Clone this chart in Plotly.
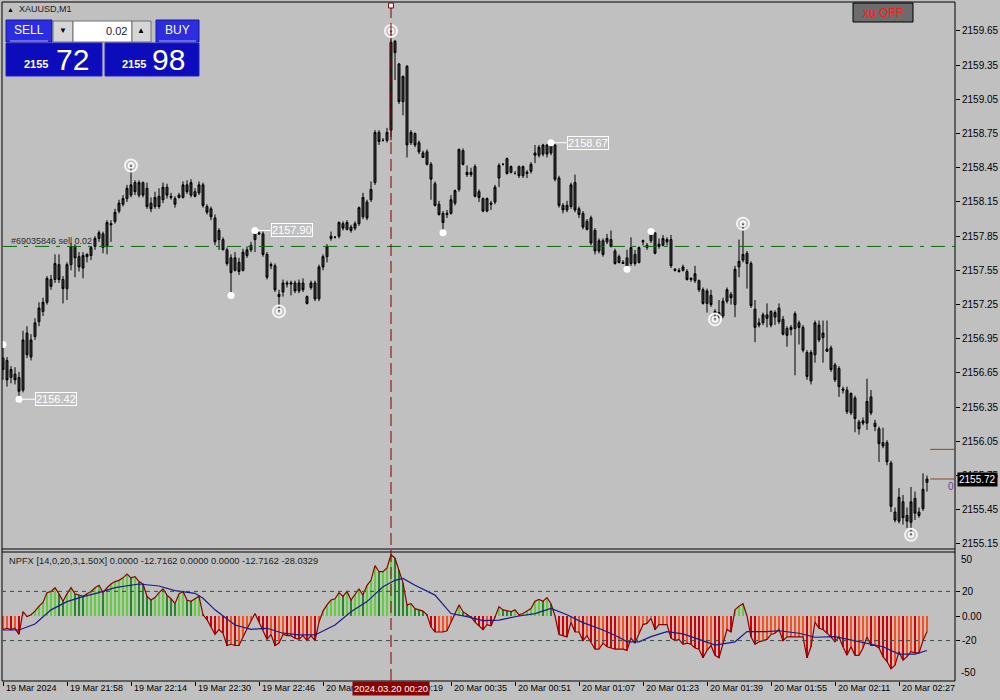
import plotly.graph_objects as go

# ---------------- DATA ----------------
opens = [2156.78,2156.76,2156.61,2156.64,2156.61,2156.50,2157.00,2156.79,2156.97,2157.10,
2157.19,2157.27,2157.47,2157.47,2157.60,2157.47,2157.39,2157.60,2157.76,2157.67,
2157.57,2157.67,2157.68,2157.76,2157.83,2157.87,2157.76,2157.96,2157.98,2158.07,
2158.13,2158.18,2158.21,2158.32,2158.21,2158.32,2158.27,2158.14,2158.11,2158.20,
2158.17,2158.28,2158.20,2158.18,2158.19,2158.19,2158.30,2158.21,2158.24,2158.23,
2158.30,2158.11,2158.09,2158.01,2157.82,2157.82,2157.73,2157.66,2157.55,2157.62,
2157.55,2157.68,2157.73,2157.82,2157.88,2157.87,2157.69,2157.59,2157.59,2157.34,
2157.36,2157.44,2157.43,2157.44,2157.37,2157.44,2157.32,2157.40,2157.44,2157.30,
2157.58,2157.67,2157.83,2157.84,2157.85,2157.96,2157.91,2157.93,2157.92,2157.96,
2158.02,2158.15,2158.17,2158.32,2158.76,2158.69,2158.69,2158.78,2159.56,2159.36,
2159.03,2159.34,2158.67,2158.75,2158.67,2158.58,2158.59,2158.48,2158.31,2158.13,
2158.05,2158.04,2158.05,2158.14,2158.26,2158.60,2158.41,2158.39,2158.46,2158.24,
2158.18,2158.07,2158.14,2158.15,2158.36,2158.48,2158.53,2158.41,2158.40,2158.46,
2158.38,2158.40,2158.42,2158.56,2158.56,2158.57,2158.65,2158.58,2158.65,2158.36,
2158.12,2158.08,2158.11,2158.32,2158.09,2158.05,2157.98,2158.01,2157.90,2157.72,
2157.81,2157.80,2157.82,2157.72,2157.67,2157.62,2157.66,2157.61,2157.69,2157.62,
2157.80,2157.77,2157.81,2157.88,2157.76,2157.77,2157.82,2157.82,2157.56,2157.55,
2157.55,2157.54,2157.48,2157.46,2157.46,2157.38,2157.26,2157.33,2157.19,2157.18,
2157.15,2157.28,2157.34,2157.25,2157.58,2157.64,2157.70,2157.61,2157.21,2157.09,
2157.09,2157.16,2157.19,2157.14,2157.22,2157.12,2157.04,2157.03,2157.04,2157.09,
2157.05,2156.83,2156.58,2156.81,2157.07,2156.96,2156.86,2156.87,2156.72,2156.69,
2156.51,2156.50,2156.30,2156.43,2156.22,2156.21,2156.21,2156.44,2156.21,2156.16,
2156.04,2156.04,2155.86,2155.43,2155.35,2155.52,2155.40,2155.34,2155.55,2155.43,
2155.46,2155.69]
highs = [2156.90,2156.79,2156.71,2156.70,2156.66,2157.02,2157.06,2156.99,2157.13,2157.27,
2157.31,2157.50,2157.51,2157.69,2157.69,2157.50,2157.62,2157.79,2157.78,2157.71,
2157.71,2157.70,2157.76,2157.85,2157.90,2157.89,2157.99,2157.99,2158.09,2158.17,
2158.21,2158.30,2158.47,2158.34,2158.34,2158.33,2158.32,2158.19,2158.24,2158.27,
2158.32,2158.31,2158.23,2158.20,2158.23,2158.33,2158.34,2158.35,2158.27,2158.33,
2158.32,2158.13,2158.11,2158.04,2157.92,2157.84,2157.75,2157.69,2157.71,2157.66,
2157.74,2157.76,2157.80,2157.90,2157.89,2157.89,2157.71,2157.62,2157.61,2157.38,
2157.47,2157.46,2157.46,2157.46,2157.47,2157.48,2157.33,2157.46,2157.46,2157.60,
2157.69,2157.78,2157.89,2157.85,2157.98,2157.98,2157.99,2157.95,2157.98,2158.11,
2158.23,2158.17,2158.33,2158.78,2158.78,2158.71,2158.80,2159.65,2159.57,2159.37,
2159.26,2159.35,2158.78,2158.76,2158.69,2158.60,2158.61,2158.50,2158.33,2158.16,
2158.07,2158.08,2158.21,2158.26,2158.62,2158.62,2158.47,2158.45,2158.48,2158.26,
2158.19,2158.19,2158.16,2158.30,2158.49,2158.49,2158.54,2158.47,2158.42,2158.47,
2158.47,2158.43,2158.50,2158.65,2158.65,2158.66,2158.66,2158.67,2158.66,2158.38,
2158.14,2158.16,2158.32,2158.39,2158.11,2158.07,2158.00,2158.03,2157.92,2157.83,
2157.83,2157.87,2157.90,2157.74,2157.69,2157.64,2157.73,2157.84,2157.73,2157.76,
2157.82,2157.79,2157.89,2157.88,2157.83,2157.86,2157.84,2157.86,2157.57,2157.57,
2157.60,2157.56,2157.49,2157.59,2157.47,2157.40,2157.39,2157.38,2157.21,2157.29,
2157.31,2157.40,2157.36,2157.59,2157.82,2157.96,2157.72,2157.63,2157.29,2157.13,
2157.18,2157.26,2157.20,2157.20,2157.26,2157.15,2157.06,2157.07,2157.19,2157.11,
2157.07,2156.85,2156.85,2157.11,2157.11,2157.11,2157.11,2156.89,2156.74,2156.71,
2156.53,2156.53,2156.48,2156.45,2156.24,2156.26,2156.60,2156.50,2156.24,2156.18,
2156.17,2156.06,2155.88,2155.47,2155.64,2155.58,2155.47,2155.65,2155.61,2155.47,
2155.77,2155.75]
lows = [2156.59,2156.53,2156.56,2156.55,2156.42,2156.48,2156.78,2156.76,2156.94,2157.06,
2157.15,2157.25,2157.38,2157.44,2157.44,2157.26,2157.29,2157.55,2157.49,2157.54,
2157.48,2157.62,2157.64,2157.73,2157.80,2157.70,2157.69,2157.80,2157.96,2158.05,
2158.11,2158.15,2158.19,2158.21,2158.19,2158.19,2158.09,2158.06,2158.09,2158.09,
2158.14,2158.18,2158.17,2158.10,2158.18,2158.18,2158.22,2158.19,2158.19,2158.21,
2158.10,2158.04,2157.99,2157.77,2157.73,2157.73,2157.59,2157.33,2157.54,2157.51,
2157.54,2157.66,2157.71,2157.71,2157.86,2157.67,2157.47,2157.56,2157.36,2157.19,
2157.32,2157.40,2157.33,2157.35,2157.35,2157.36,2157.25,2157.38,2157.28,2157.28,
2157.55,2157.62,2157.81,2157.83,2157.83,2157.90,2157.90,2157.88,2157.90,2157.94,
2158.00,2157.99,2158.15,2158.30,2158.65,2158.68,2158.67,2158.69,2159.22,2159.01,
2158.91,2158.54,2158.65,2158.63,2158.57,2158.54,2158.47,2158.17,2158.11,2158.03,
2157.88,2158.01,2158.04,2158.12,2158.24,2158.47,2158.37,2158.37,2158.19,2158.15,
2158.06,2158.06,2158.08,2158.13,2158.28,2158.47,2158.39,2158.40,2158.39,2158.36,
2158.36,2158.36,2158.40,2158.49,2158.54,2158.55,2158.54,2158.56,2158.33,2158.10,
2158.05,2158.06,2158.09,2158.06,2158.01,2157.91,2157.90,2157.77,2157.69,2157.70,
2157.67,2157.78,2157.75,2157.60,2157.61,2157.61,2157.56,2157.59,2157.59,2157.61,
2157.77,2157.73,2157.79,2157.69,2157.74,2157.76,2157.77,2157.57,2157.54,2157.53,
2157.54,2157.46,2157.45,2157.44,2157.36,2157.25,2157.18,2157.23,2157.12,2157.13,
2157.13,2157.26,2157.25,2157.14,2157.49,2157.62,2157.39,2157.22,2156.92,2157.05,
2157.07,2157.05,2157.05,2157.07,2157.08,2156.98,2156.88,2156.98,2156.63,2156.90,
2156.83,2156.59,2156.55,2156.74,2156.92,2156.74,2156.84,2156.66,2156.57,2156.44,
2156.47,2156.29,2156.28,2156.13,2156.11,2156.19,2156.15,2156.28,2156.14,2155.87,
2155.99,2155.84,2155.43,2155.34,2155.33,2155.32,2155.29,2155.23,2155.36,2155.38,
2155.44,2155.61]
closes = [2156.68,2156.59,2156.68,2156.59,2156.49,2156.94,2156.81,2156.94,2157.09,2157.22,
2157.27,2157.48,2157.41,2157.61,2157.47,2157.39,2157.60,2157.76,2157.66,2157.58,
2157.68,2157.69,2157.75,2157.83,2157.88,2157.75,2157.97,2157.95,2158.06,2158.14,
2158.18,2158.27,2158.30,2158.24,2158.32,2158.21,2158.11,2158.09,2158.19,2158.11,
2158.28,2158.21,2158.19,2158.13,2158.21,2158.30,2158.24,2158.32,2158.20,2158.30,
2158.12,2158.06,2158.02,2157.80,2157.90,2157.73,2157.61,2157.53,2157.66,2157.54,
2157.71,2157.73,2157.77,2157.89,2157.87,2157.69,2157.49,2157.60,2157.38,2157.32,
2157.44,2157.43,2157.44,2157.37,2157.44,2157.38,2157.26,2157.44,2157.30,2157.58,
2157.67,2157.76,2157.85,2157.84,2157.97,2157.92,2157.97,2157.90,2157.96,2158.10,
2158.19,2158.01,2158.26,2158.76,2158.68,2158.69,2158.76,2159.55,2159.46,2159.03,
2159.25,2158.65,2158.76,2158.65,2158.59,2158.54,2158.48,2158.35,2158.12,2158.04,
2157.97,2158.05,2158.17,2158.25,2158.61,2158.48,2158.39,2158.41,2158.20,2158.19,
2158.07,2158.18,2158.13,2158.28,2158.47,2158.48,2158.40,2158.46,2158.40,2158.38,
2158.46,2158.41,2158.48,2158.58,2158.63,2158.65,2158.57,2158.66,2158.35,2158.12,
2158.08,2158.12,2158.30,2158.08,2158.04,2157.93,2157.91,2157.79,2157.72,2157.81,
2157.69,2157.83,2157.76,2157.61,2157.62,2157.61,2157.58,2157.75,2157.61,2157.75,
2157.81,2157.75,2157.88,2157.70,2157.78,2157.83,2157.80,2157.59,2157.55,2157.54,
2157.58,2157.47,2157.47,2157.52,2157.38,2157.26,2157.37,2157.25,2157.17,2157.15,
2157.28,2157.38,2157.31,2157.56,2157.63,2157.69,2157.61,2157.24,2157.05,2157.07,
2157.16,2157.13,2157.07,2157.18,2157.10,2156.99,2156.98,2157.05,2157.17,2157.05,
2156.85,2156.62,2156.83,2157.09,2156.94,2157.00,2156.84,2156.68,2156.59,2156.53,
2156.50,2156.31,2156.47,2156.25,2156.16,2156.23,2156.40,2156.30,2156.18,2156.03,
2156.01,2155.87,2155.48,2155.36,2155.56,2155.38,2155.35,2155.52,2155.42,2155.40,
2155.63,2155.72]

npfx_main = [-11,-10,-11,-10,-15,3.5,-0.5,1,4,8,11,19,20,23,18,12,18,23,18,17,
16,18,20,23,25,19,23,26,28,29,31,34,31,32,28,26,16,13,15,19,
22,17,14,10,18,20,13,12,14,16,1,-3,-9,-15,-11,-14,-24,-23,-24,-24,
-17,-10,-4,2,-5,-11,-19,-15,-24,-22,-15,-16,-16,-18,-19,-16,-20,-16,-20,-5,
4,9,13,14,19,16,20,13,18,22,17,25,29,41,36,36,39,50,47,37,
27,9,10,6,5,4,1,-9,-13,-13,-13,-12,-5,2,9,3.5,1,-1,-5,-8,
-11,-7,-8,-1,7.6,5,4,3.5,5,1,2,4,6,12,13.5,12,15,10,0,-15,
-16,-17,-5,-13,-13,-20,-16,-21,-27,-27,-22,-25,-26,-27,-27,-27,-28,-18,-22,-14,
-7,-6,-2,-11,-7,-7,-7,-18,-20,-19,-23,-22,-23,-26,-27,-34,-28,-24,-32,-34,
-22,-11,-13,5,8,10,0,-17,-23,-21,-20,-19,-15,-14,-11,-20,-17,-17,-17,-17,
-17,-34,-25,-5,-10,-11,-14,-17,-21,-17,-25,-32,-25,-32,-32,-26,-17,-24,-24,-26,
-33,-37,-43,-40,-29,-36,-33,-29,-30,-30,-20,-12.7162]

signal_idx = [0,4,8,12,16,20,24,28,34,39,43,48,50,53,58,62,66,70,74,78,83,87,91,95,98,100,
              103,108,112,116,120,124,129,133,137,141,145,150,154,156,159,162,166,170,174,
              178,183,186,191,194,199,203,208,212,216,220,224,228,231]
signal_val = [-11.4,-11.4,-6.5,5,11.7,15.7,19,23,26,24.4,20.6,18.4,14.4,5,-7.3,-10.8,-10,-14,
              -15.4,-15.4,-7.3,3.5,11.7,23.8,29,30.6,25,17,2,-0.5,-3.8,-3.3,0,2,6.2,1,-5.4,
              -11.4,-17.3,-21,-21,-16.8,-12.7,-14.6,-19,-23.6,-21,-12.7,-12.7,-12,-14,-17.3,
              -16.8,-19.5,-22.8,-25,-31,-31,-28.0329]

price_ticks = [2159.65,2159.35,2159.05,2158.75,2158.45,2158.15,2157.85,2157.55,
               2157.25,2156.95,2156.65,2156.35,2156.05,2155.75,2155.45,2155.15]
ind_ticks = [20, 0, -20]
ind_ticktext = ["20", "0.00", "-20"]
time_tick_idx = [0,16,32,48,64,80,96,112,128,144,160,176,192,208,224]
time_tick_text = ["19 Mar 2024","19 Mar 21:58","19 Mar 22:14","19 Mar 22:30","19 Mar 22:46",
                  "20 Mar 00:03","20 Mar 00:19","20 Mar 00:35","20 Mar 00:51","20 Mar 01:07",
                  "20 Mar 01:23","20 Mar 01:39","20 Mar 01:55","20 Mar 02:11","20 Mar 02:27"]

ring_idx = [32, 69, 97, 178, 185, 227]
ring_side = ["high", "low", "high", "low", "high", "low"]
dot_idx = [0, 4, 57, 63, 110, 137, 156, 162]
dot_side = ["high", "low", "low", "high", "low", "high", "low", "high"]
label_idx = [4, 63, 137]
label_side = ["low", "high", "high"]

order_price = 2157.76
order_text = "#69035846 sell 0.02"
bid = 2155.72
ask = 2155.98
lot = "0.02"
cross_idx = 97
cross_text = "2024.03.20 00:20"
header_text = "NPFX [14,0,20,3,1.50X] 0.0000 -12.7162 0.0000 0.0000 -12.7162 -28.0329"
symbol_text = "XAUUSD,M1"

# ---------------- FIGURE ----------------
W, H = 1000, 700
def px(x): return x / W
def py(y): return 1 - y / H

BG = "#c0c0c0"
FONT = "Liberation Sans"
idx = list(range(len(closes)))

def side_val(i, s):
    return highs[i] if s == "high" else lows[i]

fig = go.Figure()

fig.add_trace(go.Candlestick(
    x=idx, open=opens, high=highs, low=lows, close=closes,
    increasing=dict(line=dict(color="#000000", width=1), fillcolor="#3a3a3a"),
    decreasing=dict(line=dict(color="#000000", width=1), fillcolor="#3a3a3a"),
    whiskerwidth=0, xaxis="x", yaxis="y", showlegend=False, hoverinfo="skip"))

# swing markers
fig.add_trace(go.Scatter(
    x=dot_idx, y=[side_val(i, s) for i, s in zip(dot_idx, dot_side)],
    mode="markers", marker=dict(symbol="circle", size=7, color="#ffffff"),
    xaxis="x", yaxis="y", showlegend=False, hoverinfo="skip"))
ring_y = [side_val(i, s) for i, s in zip(ring_idx, ring_side)]
fig.add_trace(go.Scatter(
    x=ring_idx, y=ring_y, mode="markers",
    marker=dict(symbol="circle-open", size=12, color="#f4f4f4", line=dict(width=2, color="#f4f4f4")),
    xaxis="x", yaxis="y", showlegend=False, hoverinfo="skip"))
fig.add_trace(go.Scatter(
    x=ring_idx, y=ring_y, mode="markers",
    marker=dict(symbol="circle-open", size=5, color="#ffffff", line=dict(width=1.5, color="#ffffff")),
    xaxis="x", yaxis="y", showlegend=False, hoverinfo="skip"))

# indicator histogram
hist_colors = []
for k, v in enumerate(npfx_main):
    prev = npfx_main[k - 1] if k > 0 else v
    if v >= 0:
        hist_colors.append("#5fd23a" if v >= prev else "#1f8c1f")
    else:
        hist_colors.append("#ff4d1a" if v >= prev else "#d40000")
fig.add_trace(go.Bar(x=idx, y=npfx_main, width=0.25, marker=dict(color=hist_colors, line=dict(width=0)),
                     xaxis="x2", yaxis="y2", showlegend=False, hoverinfo="skip"))
fig.add_trace(go.Scatter(x=idx, y=npfx_main, mode="lines", line=dict(color="#8b0000", width=1.2),
                         xaxis="x2", yaxis="y2", showlegend=False, hoverinfo="skip"))
fig.add_trace(go.Scatter(x=signal_idx, y=signal_val, mode="lines", line=dict(color="#1a1a8a", width=1.2),
                         xaxis="x2", yaxis="y2", showlegend=False, hoverinfo="skip"))

XR = [-0.25, 238]
fig.update_layout(
    width=W, height=H, autosize=False,
    margin=dict(l=0, r=0, t=0, b=0),
    paper_bgcolor=BG, plot_bgcolor=BG,
    font=dict(family=FONT, size=10, color="#000000"),
    showlegend=False, bargap=0,
    xaxis=dict(domain=[px(2), px(955)], range=XR, anchor="y", showgrid=False, zeroline=False,
               showticklabels=False, showline=False, ticks="", rangeslider=dict(visible=False),
               fixedrange=True),
    yaxis=dict(domain=[py(549), py(2)], range=[2155.106, 2159.904], anchor="x", side="right",
               tickvals=price_ticks, ticktext=["%.2f" % t for t in price_ticks],
               ticks="outside", ticklen=4, tickcolor="#000000", showgrid=False, zeroline=False,
               showline=False, tickfont=dict(family=FONT, size=10, color="#000000"), automargin=False),
    xaxis2=dict(domain=[px(2), px(955)], range=XR, anchor="y2", showgrid=False, zeroline=False,
                tickvals=time_tick_idx, ticks="outside", ticklen=4, tickcolor="#000000",
                showticklabels=False, showline=False, fixedrange=True),
    yaxis2=dict(domain=[py(681), py(552)], range=[-52.85, 52.03], anchor="x2", side="right",
                tickvals=ind_ticks, ticktext=ind_ticktext, ticks="outside", ticklen=4,
                tickcolor="#000000", showgrid=False, zeroline=False, showline=False,
                tickfont=dict(family=FONT, size=10, color="#000000"), automargin=False),
)

shapes = []
def line_px(x0, y0, x1, y1, color="#000000", width=1, dash=None):
    d = dict(type="line", xref="paper", yref="paper", x0=px(x0), y0=py(y0), x1=px(x1), y1=py(y1),
             line=dict(color=color, width=width))
    if dash:
        d["line"]["dash"] = dash
    shapes.append(d)

def rect_px(x0, y0, x1, y1, fill, line_color=None, lw=1):
    shapes.append(dict(type="rect", xref="paper", yref="paper", x0=px(x0), y0=py(y1), x1=px(x1), y1=py(y0),
                       fillcolor=fill, line=dict(color=line_color or fill, width=lw if line_color else 0)))

# frame
line_px(2, 2, 955, 2)
line_px(2, 2, 2, 681)
line_px(955, 2, 955, 681)
line_px(2, 549, 955, 549)
line_px(2, 552, 955, 552)
line_px(2, 681, 955, 681)

# indicator levels
for lv in [20, -20]:
    shapes.append(dict(type="line", xref="paper", yref="y2", x0=px(2), x1=px(955), y0=lv, y1=lv,
                       line=dict(color="#3c4a4a", width=1, dash="4px,4px")))

# order line
shapes.append(dict(type="line", xref="paper", yref="y", x0=px(3), x1=px(955), y0=order_price, y1=order_price,
                   line=dict(color="#0a6e0a", width=1, dash="14px,7px,4px,7px")))

# bid / ask lines
for pr in [ask, bid]:
    shapes.append(dict(type="line", xref="x", yref="y", x0=len(closes) - 0.2, x1=XR[1], y0=pr, y1=pr,
                       line=dict(color="#8b4a1e", width=1)))

# label connector lines
for i, s in zip(label_idx, label_side):
    v = side_val(i, s)
    shapes.append(dict(type="line", xref="x", yref="y", x0=i + 0.5, x1=i + 4, y0=v, y1=v,
                       line=dict(color="#ffffff", width=1)))

# crosshair
shapes.append(dict(type="line", xref="x", yref="paper", x0=cross_idx, x1=cross_idx, y0=py(681), y1=py(5),
                   line=dict(color="#800000", width=1, dash="12px,5px")))
shapes.append(dict(type="rect", xref="x", yref="paper", x0=cross_idx - 0.6, x1=cross_idx + 0.6,
                   y0=py(8), y1=py(3), fillcolor="#ffffff", line=dict(color="#800000", width=1)))

# one-click panel
rect_px(6, 20, 52, 42, "#2c2ce0", "#1818a0")
line_px(10, 41, 48, 41, "#a8a8ff")
rect_px(53, 21, 73, 42, "#d6d6d6", "#707070")
rect_px(73, 21, 132, 42, "#ffffff", "#707070")
rect_px(132, 21, 151, 42, "#d6d6d6", "#707070")
rect_px(156, 20, 199, 42, "#2c2ce0", "#1818a0")
line_px(159, 41, 196, 41, "#a8a8ff")
rect_px(6, 43, 102, 76, "#0c0cbc", "#2020d0")
rect_px(105, 43, 199, 76, "#0c0cbc", "#2020d0")
# xu OFF button
rect_px(853, 3, 913, 22, "#6c6c6c", "#000000")

fig.update_layout(shapes=shapes)

ann = []
def text_px(x, y, t, size=10, color="#000000", xanchor="left"):
    ann.append(dict(xref="paper", yref="paper", x=px(x), y=py(y), text=t, showarrow=False,
                    xanchor=xanchor, yanchor="middle", font=dict(family=FONT, size=size, color=color)))

# time axis labels
for i, t in zip(time_tick_idx, time_tick_text):
    ann.append(dict(xref="x2", yref="paper", x=i, y=py(688), text=t, showarrow=False, xanchor="left",
                    yanchor="middle", xshift=1, font=dict(family=FONT, size=9, color="#000000")))
# crosshair time label
ann.append(dict(xref="x2", yref="paper", x=cross_idx, y=py(688), text=cross_text, showarrow=False,
                xanchor="center", yanchor="middle", bgcolor="#8b0000", borderpad=1,
                font=dict(family=FONT, size=9.5, color="#ffffff")))

# indicator extreme labels
text_px(959, 559, "50")
text_px(959, 672, "-50")
text_px(7, 561, header_text, size=9.3, color="#1a1a1a")

# order text
text_px(9, 241, order_text, size=9, color="#2a2a2a")

# price labels at swings
for i, s in zip(label_idx, label_side):
    v = side_val(i, s)
    ann.append(dict(xref="x", yref="y", x=i + 4, y=v, text="%.2f" % v, showarrow=False, xanchor="left",
                    yanchor="middle", bordercolor="#ffffff", borderwidth=1, borderpad=0,
                    font=dict(family=FONT, size=11, color="#ffffff")))

# bid label on axis
ann.append(dict(xref="paper", yref="y", x=px(957), y=bid, text="%.2f" % bid, showarrow=False,
                xanchor="left", yanchor="middle", bgcolor="#000000", borderpad=1,
                font=dict(family=FONT, size=10, color="#ffffff")))
ann.append(dict(xref="paper", yref="y", x=px(951), y=bid - 0.07, text="0", showarrow=False,
                xanchor="center", yanchor="middle", font=dict(family=FONT, size=10, color="#5a3aa0")))

# top-left symbol
text_px(5, 9, "▲", size=7, color="#000000")
text_px(17, 9, symbol_text, size=9, color="#1a1a1a")
# xu OFF
text_px(883, 13, "xu OFF", size=12, color="#ff1a1a", xanchor="center")

# panel texts
text_px(29, 30, "SELL", size=12, color="#ffffff", xanchor="center")
text_px(177, 30, "BUY", size=12, color="#ffffff", xanchor="center")
text_px(63, 31, "▼", size=8, color="#000000", xanchor="center")
text_px(141, 31, "▲", size=8, color="#000000", xanchor="center")
text_px(129, 31, lot, size=11, color="#202040", xanchor="right")
bid_s = "%.2f" % bid
ask_s = "%.2f" % ask
text_px(22, 64, "<b>" + bid_s[:4] + "</b>", size=11, color="#ffffff")
text_px(54, 59, bid_s[5:], size=30, color="#ffffff")
text_px(120, 64, "<b>" + ask_s[:4] + "</b>", size=11, color="#ffffff")
text_px(150, 59, ask_s[5:], size=30, color="#ffffff")

fig.update_layout(annotations=ann)

fig.write_html("out.html", config={"displayModeBar": False},
               post_script="document.body.style.margin='0';document.body.style.overflow='hidden';")
